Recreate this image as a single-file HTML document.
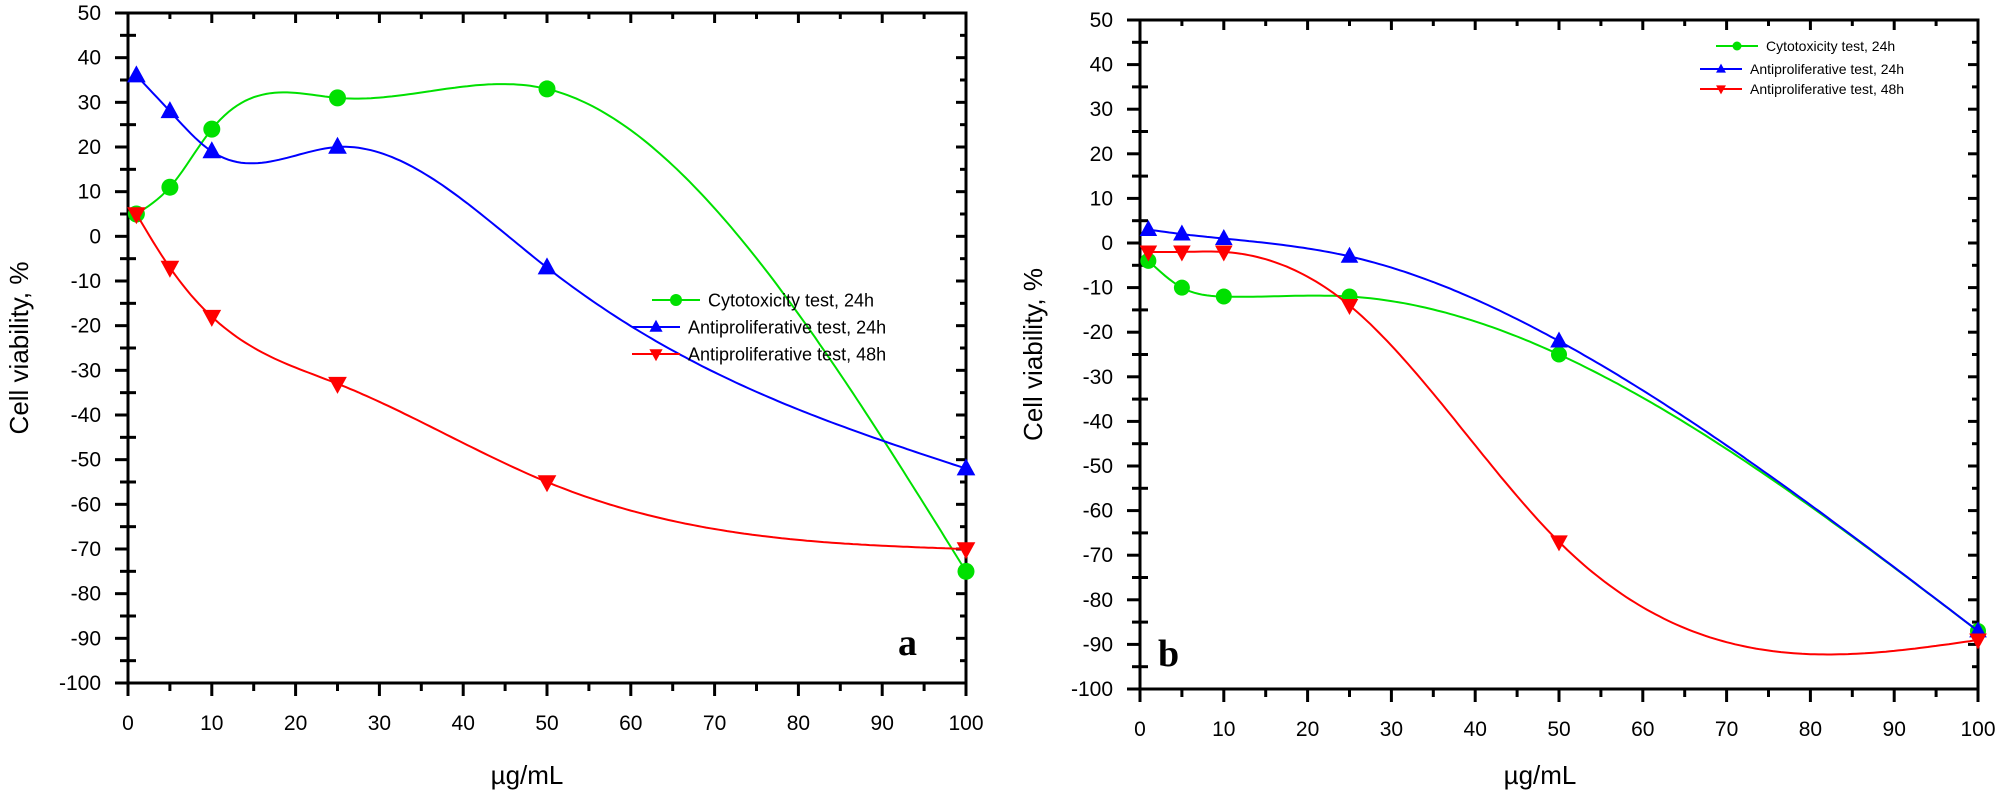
<!DOCTYPE html>
<html><head><meta charset="utf-8">
<style>
html,body{margin:0;padding:0;background:#fff;}
svg{display:block;font-family:"Liberation Sans",Arial,sans-serif;}
</style></head>
<body>
<svg id="chart" width="2000" height="793" viewBox="0 0 2000 793"></svg>
<script>
const xTicks=[0,10,20,30,40,50,60,70,80,90,100];
const yTicks=[50,40,30,20,10,0,-10,-20,-30,-40,-50,-60,-70,-80,-90,-100];
const concA=[1,5,10,25,50,100];
const cytoA=[5,11,24,31,33,-75];
const anti24A=[36,28,19,20,-7,-52];
const anti48A=[5,-7,-18,-33,-55,-70];
const concB=[1,5,10,25,50,100];
const cytoB=[-4,-10,-12,-12,-25,-87];
const anti24B=[3,2,1,-3,-22,-87];
const anti48B=[-2,-2,-2,-14,-67,-89];
const seriesNames=["Cytotoxicity test, 24h","Antiproliferative test, 24h","Antiproliferative test, 48h"];

const NS="http://www.w3.org/2000/svg";
const svg=document.getElementById('chart');
function el(tag,attrs,parent){const e=document.createElementNS(NS,tag);for(const k in attrs)e.setAttribute(k,attrs[k]);(parent||svg).appendChild(e);return e;}

function spline(xs,ys){
  const n=xs.length,h=[],al=[],l=[1],mu=[0],z=[0],c=new Array(n).fill(0),b=[],d=[];
  for(let i=0;i<n-1;i++)h.push(xs[i+1]-xs[i]);
  for(let i=1;i<n-1;i++)al[i]=3/h[i]*(ys[i+1]-ys[i])-3/h[i-1]*(ys[i]-ys[i-1]);
  for(let i=1;i<n-1;i++){l[i]=2*(xs[i+1]-xs[i-1])-h[i-1]*mu[i-1];mu[i]=h[i]/l[i];z[i]=(al[i]-h[i-1]*z[i-1])/l[i];}
  for(let j=n-2;j>=0;j--){c[j]=(j>0?z[j]:0)-mu[j]*c[j+1];b[j]=(ys[j+1]-ys[j])/h[j]-h[j]*(c[j+1]+2*c[j])/3;d[j]=(c[j+1]-c[j])/(3*h[j]);}
  return x=>{let j=0;while(j<n-2&&x>xs[j+1])j++;const t=x-xs[j];return ys[j]+b[j]*t+c[j]*t*t+d[j]*t*t*t;};
}

function marker(g,type,cx,cy,color,s){
  let m;
  if(type==='circle')m=el('circle',{cx,cy,r:s*0.5,fill:color},g);
  else if(type==='up')m=el('polygon',{points:`${cx},${cy-s*0.6} ${cx-s*0.55},${cy+s*0.4} ${cx+s*0.55},${cy+s*0.4}`,fill:color},g);
  else m=el('polygon',{points:`${cx},${cy+s*0.6} ${cx-s*0.55},${cy-s*0.4} ${cx+s*0.55},${cy-s*0.4}`,fill:color},g);
  
  
}

function panel(o){
  const g=el('g',{});
  
  
  const X=v=>o.x0+(v-0)/100*(o.x1-o.x0);
  const Y=v=>o.y1-(v+100)/150*(o.y1-o.y0);
  // frame
  const frame=el('rect',{x:o.x0,y:o.y0,width:o.x1-o.x0,height:o.y1-o.y0,fill:'none',stroke:'#000','stroke-width':3},g);
  
  
  // x ticks
  for(let v=0;v<=100;v+=5){
    const major=v%10===0,px=X(v);
    el('line',{x1:px,y1:o.y1,x2:px,y2:o.y1+(major?13:8),stroke:'#000','stroke-width':3},g);
    el('line',{x1:px,y1:o.y0,x2:px,y2:o.y0+(major?10:6),stroke:'#000','stroke-width':3},g);
  }
  xTicks.forEach(v=>{
    const t=el('text',{x:X(v),y:o.y1+47,'font-size':21,'text-anchor':'middle',fill:'#000'},g);
    t.textContent=v;
    
    
  });
  for(let v=-100;v<=50;v+=5){
    const major=v%10===0,py=Y(v);
    el('line',{x1:o.x0-(major?13:0),y1:py,x2:o.x0+(major?0:8)*(major?0:1),y2:py,stroke:'#000','stroke-width':3},g);
    if(!major)el('line',{x1:o.x0-8,y1:py,x2:o.x0,y2:py,stroke:'#000','stroke-width':3},g);
    el('line',{x1:o.x1,y1:py,x2:o.x1-(major?10:6),y2:py,stroke:'#000','stroke-width':3},g);
  }
  yTicks.forEach(v=>{
    const t=el('text',{x:o.x0-27,y:Y(v)+7,'font-size':21,'text-anchor':'end',fill:'#000'},g);
    t.textContent=v;
    
    
  });
  const yt=el('text',{x:0,y:0,'font-size':26,'text-anchor':'middle',transform:`translate(${o.ytx},${(o.y0+o.y1)/2}) rotate(-90)`},g);
  yt.textContent='Cell viability, %';
  
  
  const xt=el('text',{x:o.xtx,y:784,'font-size':26,'text-anchor':'middle'},g);
  xt.textContent='\u00b5g/mL';
  
  
  const lb=el('text',{x:o.lx,y:o.ly,'font-size':38,'font-weight':'bold','font-family':'"Liberation Serif",serif'},g);
  lb.textContent=o.label;
  
  
  const colors=['#00e000','#0000ff','#ff0000'],types=['circle','up','down'];
  o.series.forEach((ys,si)=>{
    const f=spline(o.xs,ys);let d='';
    for(let x=o.xs[0];x<=o.xs[o.xs.length-1]+1e-9;x+=0.5){d+=(d?'L':'M')+X(x).toFixed(1)+','+Y(f(x)).toFixed(1);}
    const p=el('path',{d,fill:'none',stroke:colors[si],'stroke-width':2},g);
    
    
    o.xs.forEach((x,i)=>marker(g,types[si],X(x),Y(ys[i]),colors[si],o.ms));
  });
  // legend
  seriesNames.forEach((nm,i)=>{
    const ly=o.legY[i],lx0=o.legX[i];
    el('line',{x1:lx0,y1:ly,x2:lx0+o.legW,y2:ly,stroke:colors[i],'stroke-width':2},g);
    marker(g,types[i],lx0+o.legW/2,ly,colors[i],o.legMs);
    const t=el('text',{x:lx0+o.legW+8,y:ly+o.legFs*0.36,'font-size':o.legFs},g);
    t.textContent=nm;
    
    
  });
}

panel({name:'panel-a',x0:128,x1:966,y0:13,y1:683,ytx:28,xtx:527,label:'a',lx:898,ly:655,
  xs:concA,series:[cytoA,anti24A,anti48A],ms:17,
  legX:[652,632,632],legW:48,legY:[300,327,354],legFs:18,legMs:12});
panel({name:'panel-b',x0:1140,x1:1978,y0:20,y1:689,ytx:1042,xtx:1540,label:'b',lx:1158,ly:666,
  xs:concB,series:[cytoB,anti24B,anti48B],ms:16,
  legX:[1716,1700,1700],legW:42,legY:[46,69,89],legFs:14,legMs:9});
</script>
</body></html>
